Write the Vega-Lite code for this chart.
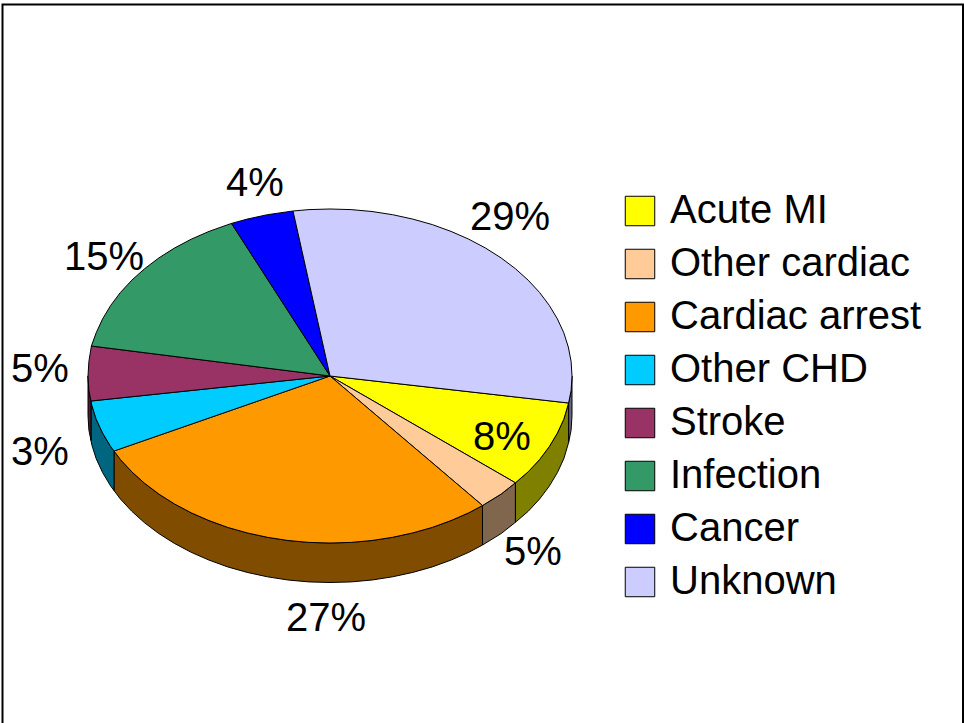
{
"$schema":"https://vega.github.io/schema/vega-lite/v6.json",
"width":964,"height":723,"padding":0,"autosize":{"type":"none"},
"background":"white","view":{"stroke":null},
"datasets":{
"frame":[{"x":2.5,"x2":963,"y":4.5,"y2":780}],
"wall":[
{"slice":"Unknown","x":572,"top":376,"bottom":415.5},{"slice":"Unknown","x":571.1,"top":390.6,"bottom":430.1},{"slice":"Unknown","x":568.6,"top":403,"bottom":442.5},
{"slice":"Acute MI","x":568.6,"top":403,"bottom":442.5},{"slice":"Acute MI","x":563.8,"top":419.2,"bottom":458.7},{"slice":"Acute MI","x":557.4,"top":433.1,"bottom":472.6},{"slice":"Acute MI","x":549.3,"top":446.6,"bottom":486.1},{"slice":"Acute MI","x":539.6,"top":459.5,"bottom":499},{"slice":"Acute MI","x":528.2,"top":471.8,"bottom":511.3},{"slice":"Acute MI","x":515.4,"top":482.8,"bottom":522.3},
{"slice":"Other cardiac","x":515.4,"top":482.8,"bottom":522.3},{"slice":"Other cardiac","x":501.1,"top":494.1,"bottom":533.6},{"slice":"Other cardiac","x":482.5,"top":505.5,"bottom":545},
{"slice":"Cardiac arrest","x":482.5,"top":505.5,"bottom":545},{"slice":"Cardiac arrest","x":468.8,"top":512.8,"bottom":552.3},{"slice":"Cardiac arrest","x":451,"top":520.6,"bottom":560.1},{"slice":"Cardiac arrest","x":432.3,"top":527.4,"bottom":566.9},{"slice":"Cardiac arrest","x":412.8,"top":532.9,"bottom":572.4},{"slice":"Cardiac arrest","x":392.6,"top":537.3,"bottom":576.8},{"slice":"Cardiac arrest","x":372,"top":540.5,"bottom":580},{"slice":"Cardiac arrest","x":351.1,"top":542.4,"bottom":581.9},{"slice":"Cardiac arrest","x":330,"top":543,"bottom":582.5},{"slice":"Cardiac arrest","x":308.9,"top":542.4,"bottom":581.9},{"slice":"Cardiac arrest","x":288,"top":540.5,"bottom":580},{"slice":"Cardiac arrest","x":267.4,"top":537.3,"bottom":576.8},{"slice":"Cardiac arrest","x":247.2,"top":532.9,"bottom":572.4},{"slice":"Cardiac arrest","x":227.7,"top":527.4,"bottom":566.9},{"slice":"Cardiac arrest","x":209,"top":520.6,"bottom":560.1},{"slice":"Cardiac arrest","x":191.2,"top":512.8,"bottom":552.3},{"slice":"Cardiac arrest","x":174.4,"top":503.9,"bottom":543.4},{"slice":"Cardiac arrest","x":158.9,"top":494.1,"bottom":533.6},{"slice":"Cardiac arrest","x":144.6,"top":483.3,"bottom":522.8},{"slice":"Cardiac arrest","x":131.8,"top":471.8,"bottom":511.3},{"slice":"Cardiac arrest","x":120.4,"top":459.5,"bottom":499},{"slice":"Cardiac arrest","x":114,"top":451,"bottom":490.5},
{"slice":"Other CHD","x":114,"top":451,"bottom":490.5},{"slice":"Other CHD","x":110.7,"top":446.6,"bottom":486.1},{"slice":"Other CHD","x":102.6,"top":433.1,"bottom":472.6},{"slice":"Other CHD","x":96.2,"top":419.2,"bottom":458.7},{"slice":"Other CHD","x":91.7,"top":405,"bottom":444.5},{"slice":"Other CHD","x":91,"top":401,"bottom":440.5},
{"slice":"Stroke","x":91,"top":401,"bottom":440.5},{"slice":"Stroke","x":88.9,"top":390.6,"bottom":430.1},{"slice":"Stroke","x":88,"top":376,"bottom":415.5}
],
"top":[
{"slice":"Acute MI","i":0,"x":330,"y":376},{"slice":"Acute MI","i":1,"x":568.6,"y":403},{"slice":"Acute MI","i":2,"x":563.8,"y":419.2},{"slice":"Acute MI","i":3,"x":557.4,"y":433.1},{"slice":"Acute MI","i":4,"x":549.3,"y":446.6},{"slice":"Acute MI","i":5,"x":539.6,"y":459.5},{"slice":"Acute MI","i":6,"x":528.2,"y":471.8},{"slice":"Acute MI","i":7,"x":515.4,"y":482.8},{"slice":"Acute MI","i":8,"x":330,"y":376},
{"slice":"Other cardiac","i":0,"x":330,"y":376},{"slice":"Other cardiac","i":1,"x":515.4,"y":482.8},{"slice":"Other cardiac","i":2,"x":501.1,"y":494.1},{"slice":"Other cardiac","i":3,"x":482.5,"y":505.5},{"slice":"Other cardiac","i":4,"x":330,"y":376},
{"slice":"Cardiac arrest","i":0,"x":330,"y":376},{"slice":"Cardiac arrest","i":1,"x":482.5,"y":505.5},{"slice":"Cardiac arrest","i":2,"x":468.8,"y":512.8},{"slice":"Cardiac arrest","i":3,"x":451,"y":520.6},{"slice":"Cardiac arrest","i":4,"x":432.3,"y":527.4},{"slice":"Cardiac arrest","i":5,"x":412.8,"y":532.9},{"slice":"Cardiac arrest","i":6,"x":392.6,"y":537.3},{"slice":"Cardiac arrest","i":7,"x":372,"y":540.5},{"slice":"Cardiac arrest","i":8,"x":351.1,"y":542.4},{"slice":"Cardiac arrest","i":9,"x":330,"y":543},{"slice":"Cardiac arrest","i":10,"x":308.9,"y":542.4},{"slice":"Cardiac arrest","i":11,"x":288,"y":540.5},{"slice":"Cardiac arrest","i":12,"x":267.4,"y":537.3},{"slice":"Cardiac arrest","i":13,"x":247.2,"y":532.9},{"slice":"Cardiac arrest","i":14,"x":227.7,"y":527.4},{"slice":"Cardiac arrest","i":15,"x":209,"y":520.6},{"slice":"Cardiac arrest","i":16,"x":191.2,"y":512.8},{"slice":"Cardiac arrest","i":17,"x":174.4,"y":503.9},{"slice":"Cardiac arrest","i":18,"x":158.9,"y":494.1},{"slice":"Cardiac arrest","i":19,"x":144.6,"y":483.3},{"slice":"Cardiac arrest","i":20,"x":131.8,"y":471.8},{"slice":"Cardiac arrest","i":21,"x":120.4,"y":459.5},{"slice":"Cardiac arrest","i":22,"x":114,"y":451},{"slice":"Cardiac arrest","i":23,"x":330,"y":376},
{"slice":"Other CHD","i":0,"x":330,"y":376},{"slice":"Other CHD","i":1,"x":114,"y":451},{"slice":"Other CHD","i":2,"x":110.7,"y":446.6},{"slice":"Other CHD","i":3,"x":102.6,"y":433.1},{"slice":"Other CHD","i":4,"x":96.2,"y":419.2},{"slice":"Other CHD","i":5,"x":91.7,"y":405},{"slice":"Other CHD","i":6,"x":91,"y":401},{"slice":"Other CHD","i":7,"x":330,"y":376},
{"slice":"Stroke","i":0,"x":330,"y":376},{"slice":"Stroke","i":1,"x":91,"y":401},{"slice":"Stroke","i":2,"x":88.9,"y":390.6},{"slice":"Stroke","i":3,"x":88,"y":376},{"slice":"Stroke","i":4,"x":88.9,"y":361.4},{"slice":"Stroke","i":5,"x":91.4,"y":346},{"slice":"Stroke","i":6,"x":330,"y":376},
{"slice":"Infection","i":0,"x":330,"y":376},{"slice":"Infection","i":1,"x":91.4,"y":346},{"slice":"Infection","i":2,"x":96.2,"y":332.8},{"slice":"Infection","i":3,"x":102.6,"y":318.9},{"slice":"Infection","i":4,"x":110.7,"y":305.4},{"slice":"Infection","i":5,"x":120.4,"y":292.5},{"slice":"Infection","i":6,"x":131.8,"y":280.2},{"slice":"Infection","i":7,"x":144.6,"y":268.7},{"slice":"Infection","i":8,"x":158.9,"y":257.9},{"slice":"Infection","i":9,"x":174.4,"y":248.1},{"slice":"Infection","i":10,"x":191.2,"y":239.2},{"slice":"Infection","i":11,"x":209,"y":231.4},{"slice":"Infection","i":12,"x":231.5,"y":223.4},{"slice":"Infection","i":13,"x":330,"y":376},
{"slice":"Cancer","i":0,"x":330,"y":376},{"slice":"Cancer","i":1,"x":231.5,"y":223.4},{"slice":"Cancer","i":2,"x":247.2,"y":219.1},{"slice":"Cancer","i":3,"x":267.4,"y":214.7},{"slice":"Cancer","i":4,"x":293,"y":211},{"slice":"Cancer","i":5,"x":330,"y":376},
{"slice":"Unknown","i":0,"x":330,"y":376},{"slice":"Unknown","i":1,"x":293,"y":211},{"slice":"Unknown","i":2,"x":308.9,"y":209.6},{"slice":"Unknown","i":3,"x":330,"y":209},{"slice":"Unknown","i":4,"x":351.1,"y":209.6},{"slice":"Unknown","i":5,"x":372,"y":211.5},{"slice":"Unknown","i":6,"x":392.6,"y":214.7},{"slice":"Unknown","i":7,"x":412.8,"y":219.1},{"slice":"Unknown","i":8,"x":432.3,"y":224.6},{"slice":"Unknown","i":9,"x":451,"y":231.4},{"slice":"Unknown","i":10,"x":468.8,"y":239.2},{"slice":"Unknown","i":11,"x":485.6,"y":248.1},{"slice":"Unknown","i":12,"x":501.1,"y":257.9},{"slice":"Unknown","i":13,"x":515.4,"y":268.7},{"slice":"Unknown","i":14,"x":528.2,"y":280.2},{"slice":"Unknown","i":15,"x":539.6,"y":292.5},{"slice":"Unknown","i":16,"x":549.3,"y":305.4},{"slice":"Unknown","i":17,"x":557.4,"y":318.9},{"slice":"Unknown","i":18,"x":563.8,"y":332.8},{"slice":"Unknown","i":19,"x":568.3,"y":347},{"slice":"Unknown","i":20,"x":571.1,"y":361.4},{"slice":"Unknown","i":21,"x":572,"y":376},{"slice":"Unknown","i":22,"x":571.1,"y":390.6},{"slice":"Unknown","i":23,"x":568.6,"y":403},{"slice":"Unknown","i":24,"x":330,"y":376}
],
"labels":[
{"label":"8%","x":502,"y":438},{"label":"5%","x":533,"y":553},{"label":"27%","x":326,"y":619},{"label":"3%","x":40,"y":453},{"label":"5%","x":40,"y":370},{"label":"15%","x":104,"y":258},{"label":"4%","x":255,"y":184},{"label":"29%","x":510,"y":218}
]
},
"layer":[
{"data":{"name":"frame"},"mark":{"type":"rect","fill":null,"stroke":"black","strokeWidth":2,"clip":true},
 "encoding":{"x":{"field":"x","type":"quantitative","scale":{"domain":[0,964]},"axis":null},"x2":{"field":"x2"},"y":{"field":"y","type":"quantitative","scale":{"domain":[0,723],"reverse":true},"axis":null},"y2":{"field":"y2"}}},
{"data":{"name":"wall"},"mark":{"type":"area","stroke":"black","strokeWidth":1,"clip":true},
 "encoding":{"x":{"field":"x","type":"quantitative","scale":{"domain":[0,964]},"axis":null},"y":{"field":"top","type":"quantitative","scale":{"domain":[0,723],"reverse":true},"axis":null,"stack":null},"y2":{"field":"bottom"},
 "fill":{"field":"slice","type":"nominal","legend":null,"scale":{"domain":["Acute MI","Other cardiac","Cardiac arrest","Other CHD","Stroke","Unknown"],"range":["#808000","#80664D","#804D00","#006680","#4D1A33","#666680"]}}}},
{"data":{"name":"top"},"mark":{"type":"line","stroke":"black","strokeWidth":1,"filled":true,"clip":true},
 "encoding":{"x":{"field":"x","type":"quantitative","scale":{"domain":[0,964]},"axis":null},"y":{"field":"y","type":"quantitative","scale":{"domain":[0,723],"reverse":true},"axis":null},"order":{"field":"i","type":"quantitative"},"detail":{"field":"slice"},
 "fill":{"field":"slice","type":"nominal","scale":{"domain":["Acute MI","Other cardiac","Cardiac arrest","Other CHD","Stroke","Infection","Cancer","Unknown"],"range":["#FFFF00","#FFCC99","#FF9900","#00CCFF","#993366","#339966","#0000FF","#CCCCFF"]},
 "legend":{"title":null,"orient":"none","legendX":620,"legendY":191,"symbolType":"square","symbolSize":870,"symbolStrokeColor":"black","symbolStrokeWidth":1,"symbolOpacity":1,"labelFont":"Liberation Sans","labelFontSize":40,"labelColor":"black","labelOffset":10,"labelLimit":320,"rowPadding":13,"padding":0}}}},
{"data":{"name":"labels"},"mark":{"type":"text","font":"Liberation Sans","fontSize":40,"color":"black","align":"center","baseline":"middle"},
 "encoding":{"x":{"field":"x","type":"quantitative","scale":{"domain":[0,964]},"axis":null},"y":{"field":"y","type":"quantitative","scale":{"domain":[0,723],"reverse":true},"axis":null},"text":{"field":"label"}}}
],
"resolve":{"scale":{"fill":"independent"}}
}
